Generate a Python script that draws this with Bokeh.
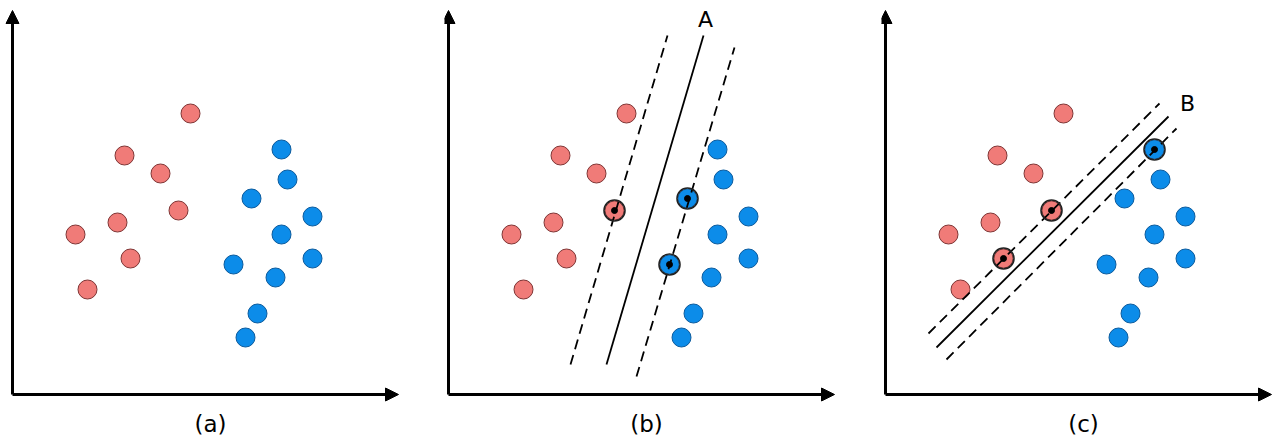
from bokeh.plotting import figure
from bokeh.layouts import row
from bokeh.models import Arrow, NormalHead
from bokeh.embed import file_html
from bokeh.resources import INLINE
from bokeh.core.properties import value

# ---- data (same point cloud in every panel) ----
red_x = [178, 112, 148, 166, 105, 63, 118, 75]
red_y = [281, 239, 221, 184, 172, 160, 136, 105]
blue_x = [269, 275, 239, 300, 269, 221, 300, 263, 245, 233]
blue_y = [245, 215, 196, 178, 160, 130, 136, 117, 81, 57]

panel_labels = ["(a)", "(b)", "(c)"]

# hyperplane A (panel b): x-start, y-start, x-end, y-end
A_solid = [158, 30, 255, 359]
A_upper = [122, 30, 219, 359]
A_lower = [188, 18, 286, 347]
A_label = ["A"]
A_sv_red = [3]
A_sv_blue = [2, 5]

# hyperplane B (panel c)
B_solid = [51, 47, 283, 278]
B_upper = [43, 61, 274, 291]
B_lower = [61, 35, 291, 266]
B_label = ["B"]
B_sv_red = [6, 3]
B_sv_blue = [0]

X_AXIS_LEN = 386
Y_AXIS_LEN = 384

RED_FILL = "#F07B78"
RED_LINE = "#7E3434"
BLUE_FILL = "#0C8CE9"
BLUE_LINE = "#0B5A9C"

widths = [444, 437, 395]
left_pad = [12, 4, 4]
H = 438
TOP = 394


def make_panel(i):
    w = widths[i]
    lp = left_pad[i]
    p = figure(width=w, height=H, x_range=(-lp, w - lp), y_range=(TOP - H, TOP),
               output_backend="svg", toolbar_location=None,
               min_border=0, min_border_left=0, min_border_right=0,
               min_border_top=0, min_border_bottom=0)
    p.axis.visible = False
    p.grid.visible = False
    p.outline_line_color = None
    p.background_fill_color = "white"
    p.border_fill_color = "white"

    p.add_layout(Arrow(end=NormalHead(size=13, fill_color="black", line_color="black"),
                       x_start=0, y_start=0, x_end=0, y_end=Y_AXIS_LEN,
                       line_width=3, line_color="black"))
    p.add_layout(Arrow(end=NormalHead(size=13, fill_color="black", line_color="black"),
                       x_start=0, y_start=0, x_end=X_AXIS_LEN, y_end=0,
                       line_width=3, line_color="black"))

    p.scatter(red_x, red_y, size=19, fill_color=RED_FILL, line_color=RED_LINE, line_width=1)
    p.scatter(blue_x, blue_y, size=19, fill_color=BLUE_FILL, line_color=BLUE_LINE, line_width=1)

    p.text(x=[X_AXIS_LEN / 2 + 5], y=[-29], text=[panel_labels[i]],
           text_font=value("DejaVu Sans"), text_font_size="23px",
           text_align="center", text_baseline="middle", text_color="black")
    return p


def add_margin(p, solid, upper, lower, label, sv_r, sv_b, label_dx, label_dy):
    p.line([solid[0], solid[2]], [solid[1], solid[3]], line_color="black", line_width=1.8)
    for seg in (upper, lower):
        p.line([seg[0], seg[2]], [seg[1], seg[3]], line_color="black",
               line_width=1.8, line_dash="10 6")
    sx = [red_x[k] for k in sv_r] + [blue_x[k] for k in sv_b]
    sy = [red_y[k] for k in sv_r] + [blue_y[k] for k in sv_b]
    p.scatter(sx, sy, size=21, fill_alpha=0.0,
              line_color="#222222", line_width=1.6)
    p.scatter(sx, sy, size=6, fill_color="black", line_color="black")
    p.text(x=[solid[2] + label_dx], y=[solid[3] + label_dy], text=label,
           text_font=value("DejaVu Sans"), text_font_size="22px",
           text_align="center", text_baseline="middle", text_color="black")


pa = make_panel(0)
pb = make_panel(1)
add_margin(pb, A_solid, A_upper, A_lower, A_label, A_sv_red, A_sv_blue, 2, 16)
pc = make_panel(2)
add_margin(pc, B_solid, B_upper, B_lower, B_label, B_sv_red, B_sv_blue, 19, 13)

layout = row(pa, pb, pc, spacing=0)
open("out.html", "w").write(file_html(layout, INLINE))
